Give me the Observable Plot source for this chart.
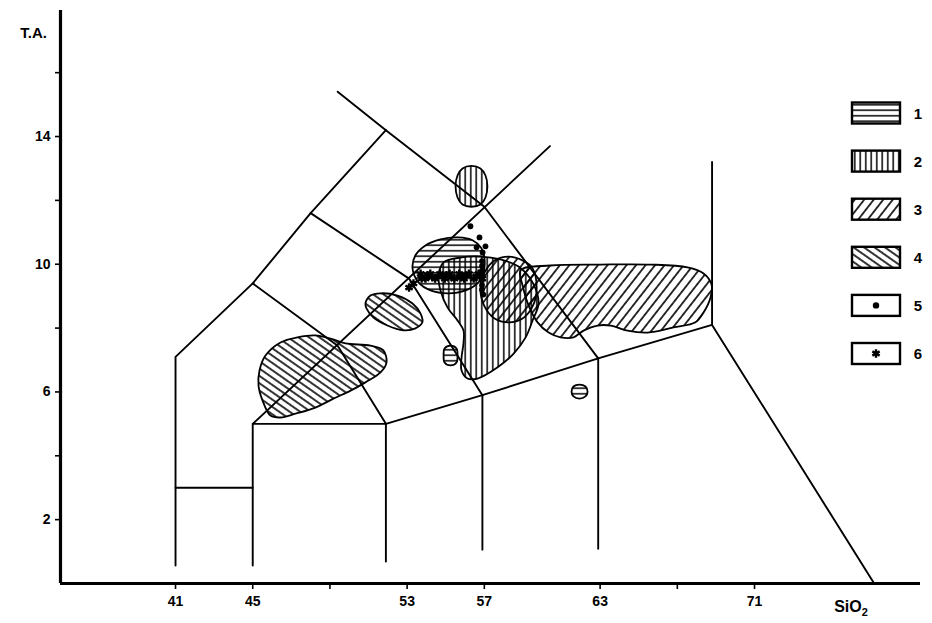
<!DOCTYPE html>
<html><head><meta charset="utf-8">
<script src="https://cdn.jsdelivr.net/npm/d3@7"></script>
<script src="https://cdn.jsdelivr.net/npm/@observablehq/plot@0.6"></script>
<style>body{margin:0;background:#fff;} svg{display:block;}</style>
</head><body><div id="chart"></div>
<script>
// ---- axes ----
const xTicks = [41, 45, 49, 53, 57, 63, 67, 71];
const xTickLabels = [41, 45, 53, 57, 63, 71];
const yTicks = [2, 4, 6, 8, 10, 12, 14, 16];
const yTickLabels = [2, 6, 10, 14];
const xTitle = "SiO";
const xTitleSub = "2";
const yTitle = "T.A.";

// ---- TAS boundary lines [SiO2, T.A.] ----
const lineAD = [[41, 0.56], [41, 7.1], [45, 9.4], [48.0, 11.6], [51.9, 14.2]];
const lineEG = [[49.4, 15.4], [51.9, 14.2], [57.0, 11.8], [62.9, 7.05]];
const lineHI = [[45, 0.56], [45, 5], [60.4, 13.7]];
const line41_45 = [[41, 3], [45, 3]];
const lineBase = [[45, 5], [51.9, 5], [56.9, 5.9], [62.9, 7.05], [68.8, 8.1]];
const line52 = [[51.9, 0.69], [51.9, 5]];
const line57 = [[56.9, 1.06], [56.9, 5.9]];
const line63 = [[62.9, 1.09], [62.9, 7.05]];
const lineRhy = [[68.8, 13.2], [68.8, 8.1], [77.2, 0]];
const lineBJ = [[45, 9.4], [49.4, 7.45], [51.9, 5]];
const lineCK = [[48.0, 11.6], [53.1, 9.55], [56.9, 5.9]];

// ---- fields (outlines) ----
const field1 = [[53.28,9.87],[53.43,10.28],[53.95,10.59],[54.73,10.78],[55.66,10.84],[56.39,10.75],[56.85,10.50],[57.01,10.18],[56.96,9.74],[56.70,9.43],[56.03,9.18],[55.15,9.09],[54.21,9.18],[53.59,9.43]];
const field1OvalA = [[55.25,7.45],[55.56,7.36],[55.61,7.14],[55.56,6.92],[55.25,6.83],[54.94,6.92],[54.89,7.14],[54.94,7.36]];
const field1OvalB = [[61.93,6.23],[62.24,6.17],[62.35,6.01],[62.24,5.86],[61.93,5.79],[61.62,5.86],[61.52,6.01],[61.62,6.17]];
const field2Top = [[56.33,13.08],[56.80,13.00],[57.06,12.78],[57.16,12.44],[57.06,12.09],[56.80,11.87],[56.33,11.80],[55.87,11.87],[55.61,12.09],[55.51,12.44],[55.61,12.78],[55.87,13.00]];
const field2Main = [[54.89,10.06],[55.76,10.21],[56.80,10.24],[57.84,10.15],[58.77,9.93],[59.50,9.43],[59.81,8.77],[59.50,8.24],[59.14,7.71],[58.52,7.20],[57.69,6.77],[56.65,6.42],[56.13,6.42],[55.82,6.67],[55.82,7.08],[55.92,7.52],[55.92,7.93],[55.61,8.24],[55.09,8.65],[54.73,9.18],[54.63,9.65]];
const field3Round = [[58.25,10.24],[58.98,10.12],[59.50,9.87],[59.71,9.21],[59.50,8.68],[58.98,8.30],[58.25,8.18],[57.53,8.30],[57.01,8.68],[56.80,9.21],[57.01,9.74],[57.53,10.12]];
const field3Long = [[58.88,9.81],[60.43,9.96],[63.02,9.99],[65.61,9.99],[67.53,9.90],[68.36,9.71],[68.77,9.37],[68.72,8.96],[68.36,8.49],[67.94,8.18],[66.80,8.02],[65.46,7.86],[64.42,7.92],[63.54,8.08],[62.87,8.08],[62.14,7.92],[61.62,7.71],[60.95,7.71],[60.33,7.86],[59.76,8.18],[59.29,8.71],[58.98,9.34]];
const field4Left = [[45.35,6.67],[45.66,7.14],[46.44,7.55],[47.32,7.71],[48.25,7.77],[49.03,7.67],[49.81,7.52],[51.10,7.45],[51.77,7.30],[51.93,6.92],[51.62,6.61],[50.84,6.30],[50.07,6.04],[49.18,5.79],[48.25,5.51],[47.22,5.32],[46.44,5.20],[45.92,5.26],[45.51,5.73],[45.30,6.20]];
const field4Small = [[50.84,8.77],[51.10,9.02],[51.62,9.09],[52.50,9.02],[53.28,8.77],[53.69,8.46],[53.79,8.18],[53.43,7.99],[52.81,7.93],[51.98,8.08],[51.26,8.33],[50.90,8.61]];

// ---- samples ----
const dots5 = [[56.28,11.19],[56.75,10.84],[57.06,10.56],[56.60,10.53],[56.91,10.37],[56.88,10.10],[56.88,9.95],[56.88,9.80],[56.88,9.65],[56.88,9.50],[56.88,9.35],[56.88,9.20],[56.95,9.05]];
const stars6 = [[53.10,9.27],[53.33,9.40],[53.70,9.70],[53.95,9.55],[54.20,9.70],[54.45,9.55],[54.70,9.70],[54.95,9.55],[55.20,9.70],[55.45,9.55],[55.70,9.70],[55.95,9.55],[56.20,9.70],[56.45,9.55],[56.70,9.70],[56.90,9.55],[53.75,9.55],[54.30,9.60],[55.00,9.65],[55.80,9.60],[56.60,9.62],[54.05,9.65],[54.60,9.62],[55.30,9.60],[56.05,9.65]];

const legendLabels = ["1", "2", "3", "4", "5", "6"];

const fields = [
  {pts: field4Left, pat: 4}, {pts: field4Small, pat: 4},
  {pts: field3Long, pat: 3}, {pts: field3Round, pat: 3},
  {pts: field2Main, pat: 2}, {pts: field2Top, pat: 2},
  {pts: field1, pat: 1}, {pts: field1OvalA, pat: 1}, {pts: field1OvalB, pat: 1}
];
const tasLines = [lineAD, lineEG, lineHI, line41_45, lineBase, line52, line57, line63, lineRhy, lineBJ, lineCK];
const tasRows = tasLines.flatMap((l, i) => l.map(p => ({id: i, x: p[0], y: p[1]})));

const font = "'Liberation Sans', Arial, Helvetica, sans-serif";
const xDom = [35.04, 79.6], yDom = [0, 18.01];

const svg = Plot.plot({
  width: 932, height: 623,
  marginLeft: 60, marginRight: 12, marginTop: 8, marginBottom: 40,
  x: {domain: xDom, axis: null},
  y: {domain: yDom, axis: null},
  style: {fontFamily: font, background: "#fff", color: "black"},
  marks: [
    ...fields.map(f => Plot.line(f.pts, {x: d => d[0], y: d => d[1], curve: "catmull-rom-closed", fill: `url(#p${f.pat})`, stroke: "black", strokeWidth: 1.8})),
    Plot.line(tasRows, {x: "x", y: "y", z: "id", stroke: "black", strokeWidth: 1.9}),
    Plot.dot(dots5, {x: d => d[0], y: d => d[1], r: 2.9, fill: "black", stroke: "none"}),
    Plot.dot(stars6, {x: d => d[0], y: d => d[1], symbol: "asterisk", r: 4, stroke: "black", strokeWidth: 2.4}),
    Plot.ruleX([xDom[0]], {y1: 0, y2: 17.95, stroke: "black", strokeWidth: 3.2}),
    Plot.ruleY([0], {stroke: "black", strokeWidth: 3.2}),
    Plot.axisX({ticks: xTicks, tickFormat: d => xTickLabels.includes(d) ? String(d) : "", tickSize: 6, tickPadding: 7, fontSize: 14, fontWeight: "bold", strokeWidth: 1.6, label: null}),
    Plot.axisY({ticks: yTicks, tickFormat: d => yTickLabels.includes(d) ? String(d) : "", anchor: "left", tickSize: 5, tickPadding: 5, fontSize: 14, fontWeight: "bold", strokeWidth: 1.6, label: null})
  ]
});

// hatch patterns
const defs = d3.select(svg).insert("defs", ":first-child");
function pat(id, w, h, rot, vertical, sw) {
  const p = defs.append("pattern").attr("id", id).attr("patternUnits", "userSpaceOnUse")
    .attr("width", w).attr("height", h);
  if (rot) p.attr("patternTransform", `rotate(${rot})`);
  if (vertical) p.append("line").attr("x1", w / 2).attr("x2", w / 2).attr("y1", 0).attr("y2", h);
  else p.append("line").attr("x1", 0).attr("x2", w).attr("y1", h / 2).attr("y2", h / 2);
  p.select("line").attr("stroke", "black").attr("stroke-width", sw);
}
pat("p1", 8, 5.5, 0, false, 1.5);
pat("p2", 5.5, 8, 0, true, 1.5);
pat("p3", 7.5, 8, 38, true, 1.6);
pat("p4", 8, 6, 35, false, 1.6);

const s = d3.select(svg);
// axis titles
s.append("text").attr("x", 47).attr("y", 38).attr("text-anchor", "end").attr("font-family", font).attr("font-weight", "bold")
  .attr("font-size", 15).text(yTitle);
const xt = s.append("text").attr("x", 851).attr("y", 612).attr("font-family", font).attr("font-weight", "bold").attr("font-size", 16);
xt.append("tspan").text(xTitle);
xt.append("tspan").attr("dy", 4).attr("font-size", 11).text(xTitleSub);

// legend
const lg = s.append("g");
legendLabels.forEach((lab, i) => {
  const cy = 113 + i * 48.1;
  const g = lg.append("g").attr("transform", `translate(852,${cy})`);
  g.append("rect").attr("x", 0).attr("y", -10.5).attr("width", 48).attr("height", 21)
    .attr("fill", i < 4 ? `url(#p${i + 1})` : "white").attr("stroke", "black").attr("stroke-width", 2.4);
  if (i === 4) g.append("circle").attr("cx", 24).attr("cy", 0).attr("r", 3.2).attr("fill", "black");
  if (i === 5) g.append("path").attr("transform", "translate(24,0)").attr("d", d3.symbol(d3.symbolAsterisk, 50)()).attr("stroke", "black").attr("stroke-width", 2.4).attr("fill", "none");
  g.append("text").attr("x", 66).attr("y", 5.5).attr("font-family", font).attr("font-weight", "bold").attr("font-size", 15).text(lab);
});

document.getElementById("chart").appendChild(svg);
</script>
</body></html>
